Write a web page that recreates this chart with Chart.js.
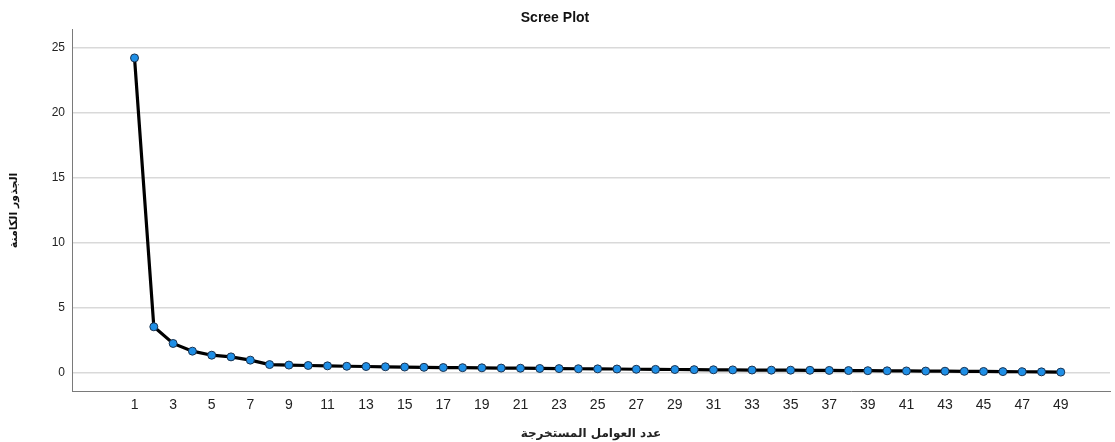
<!DOCTYPE html>
<html>
<head>
<meta charset="utf-8">
<script src="https://cdn.jsdelivr.net/npm/chart.js@4.4.1/dist/chart.umd.min.js"></script>
<style>
  html, body { margin: 0; padding: 0; background: #fff; }
  #wrap { width: 1115px; height: 442px; }
</style>
</head>
<body>
<div id="wrap"><canvas id="scree" width="1115" height="442"></canvas></div>
<script>
// Component numbers and their eigenvalues
const components = [1,2,3,4,5,6,7,8,9,10,11,12,13,14,15,16,17,18,19,20,21,22,23,24,25,26,27,28,29,30,31,32,33,34,35,36,37,38,39,40,41,42,43,44,45,46,47,48,49];
const eigenvalues = [24.2,3.55,2.27,1.68,1.37,1.24,0.99,0.65,0.61,0.58,0.55,0.52,0.50,0.48,0.46,0.44,0.42,0.41,0.40,0.38,0.37,0.35,0.34,0.33,0.32,0.31,0.29,0.28,0.27,0.26,0.25,0.24,0.23,0.22,0.22,0.21,0.20,0.19,0.18,0.17,0.16,0.15,0.14,0.13,0.12,0.11,0.10,0.09,0.07];
const xTickValues = [1,3,5,7,9,11,13,15,17,19,21,23,25,27,29,31,33,35,37,39,41,43,45,47,49];
const yTickValues = [0,5,10,15,20,25];

const titleText = 'Scree Plot';
const xTitle = 'عدد العوامل المستخرجة';
const yTitle = 'الجذور الكامنة';

const points = components.map((c, i) => ({ x: c, y: eigenvalues[i] }));
const baseFont = '"Liberation Sans", Arial, sans-serif';

new Chart(document.getElementById('scree'), {
  type: 'line',
  data: {
    datasets: [{
      data: points,
      borderColor: '#000000',
      borderWidth: 3.2,
      tension: 0,
      pointRadius: 4,
      pointBackgroundColor: '#1f8fe6',
      pointBorderColor: '#1b3350',
      pointBorderWidth: 1
    }]
  },
  options: {
    responsive: false,
    animation: false,
    layout: { padding: { left: 0, right: 5, top: 0, bottom: 0 } },
    plugins: {
      legend: { display: false },
      tooltip: { enabled: false },
      title: {
        display: true,
        text: titleText,
        color: '#111',
        font: { family: baseFont, size: 14, weight: 'bold', lineHeight: 1.2 },
        padding: { top: 10, bottom: 3 }
      }
    },
    scales: {
      x: {
        type: 'linear',
        min: -2.24,
        max: 51.55,
        afterBuildTicks: (s) => { s.ticks = xTickValues.map(v => ({ value: v })); },
        afterFit: (s) => { s.height = 51; },
        grid: { display: false, drawTicks: false },
        border: { display: true, color: '#7a7a7a', width: 1 },
        ticks: {
          color: '#222',
          padding: 6,
          maxRotation: 0,
          autoSkip: false,
          font: { family: baseFont, size: 14 }
        },
        title: {
          display: true,
          text: xTitle,
          color: '#222',
          font: { family: '"DejaVu Sans", "Noto Sans", sans-serif', size: 12, weight: 'bold' },
          padding: { top: 0, bottom: 1 }
        }
      },
      y: {
        type: 'linear',
        min: -1.38,
        max: 26.36,
        afterBuildTicks: (s) => { s.ticks = yTickValues.map(v => ({ value: v })); },
        afterFit: (s) => { s.width = 72; },
        grid: { display: true, color: '#d9d9d9', lineWidth: 1.5, drawTicks: false },
        border: { display: true, color: '#7a7a7a', width: 1 },
        ticks: {
          color: '#222',
          padding: 7,
          font: { family: baseFont, size: 12 }
        },
        title: {
          display: true,
          text: yTitle,
          color: '#111',
          font: { family: '"DejaVu Sans", "Noto Sans", sans-serif', size: 11, weight: 'bold' },
          padding: { top: 8, bottom: 0 }
        }
      }
    }
  }
});
</script>
</body>
</html>
